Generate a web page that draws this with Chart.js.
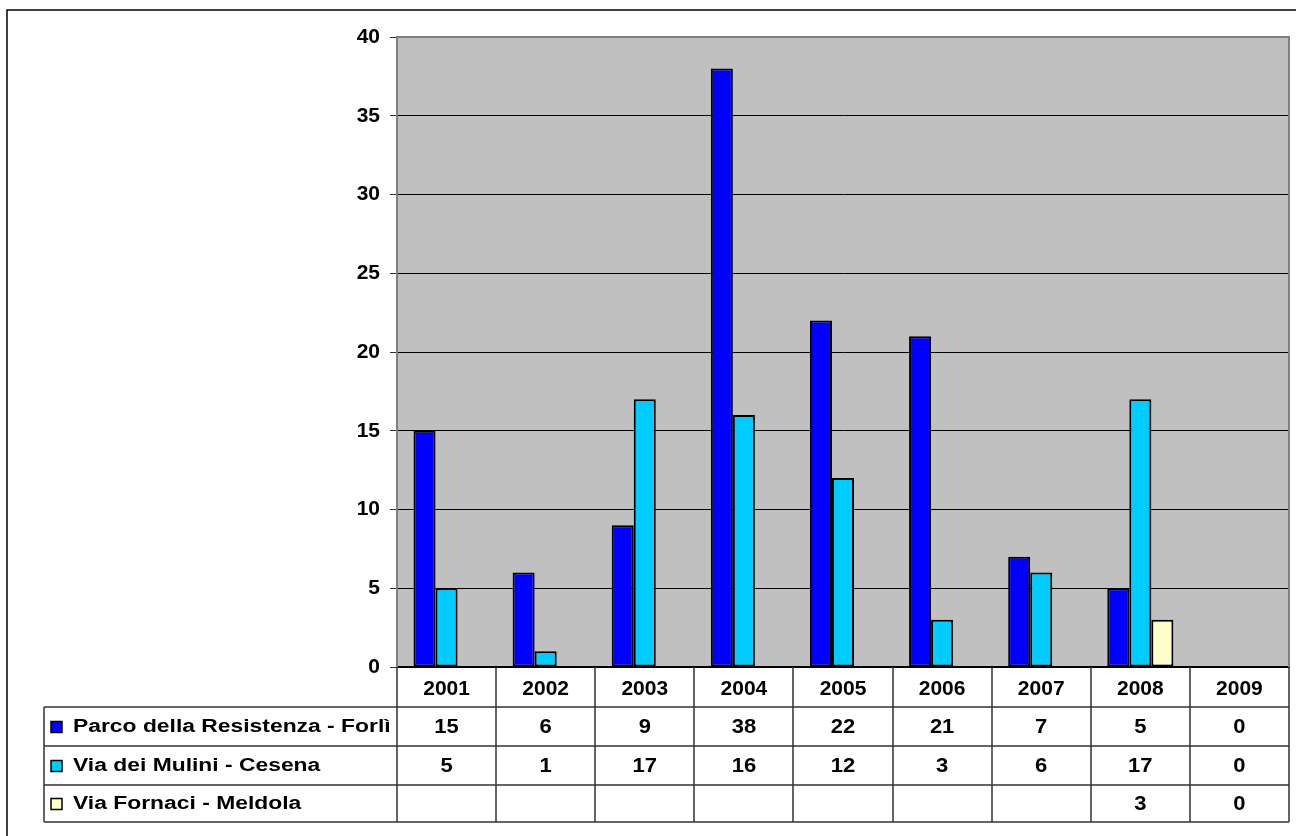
<!DOCTYPE html>
<html>
<head>
<meta charset="utf-8">
<script src="https://cdn.jsdelivr.net/npm/chart.js@4"></script>
<style>
    html, body { margin: 0; padding: 0; background: #fff; }
    #wrap { width: 1296px; height: 836px; position: relative; }
</style>
</head>
<body>
<div id="wrap"><canvas id="chart"></canvas></div>
<script>
const years = ['2001', '2002', '2003', '2004', '2005', '2006', '2007', '2008', '2009'];
const parco = [15, 6, 9, 38, 22, 21, 7, 5, 0];
const mulini = [5, 1, 17, 16, 12, 3, 6, 17, 0];
const fornaci = [null, null, null, null, null, null, null, 3, 0];
const seriesNames = ['Parco della Resistenza - Forlì', 'Via dei Mulini - Cesena', 'Via Fornaci - Meldola'];
const seriesColors = ['#0000FF', '#00CCFF', '#FFFFCC'];

const FONT = "'Liberation Sans', Arial, sans-serif";

// grey plot background + outline
const plotBox = {
    id: 'plotBox',
    beforeDraw(chart) {
        const { ctx, chartArea: a } = chart;
        ctx.save();
        ctx.fillStyle = '#C0C0C0';
        ctx.fillRect(a.left, a.top, a.right - a.left, a.bottom - a.top);
        ctx.restore();
    },
    beforeDatasetsDraw(chart) {
        const { ctx, chartArea: a } = chart;
        ctx.save();
        ctx.strokeStyle = '#808080';
        ctx.lineWidth = 2;
        ctx.beginPath();
        ctx.moveTo(a.left, a.bottom);
        ctx.lineTo(a.left, a.top);
        ctx.lineTo(a.right, a.top);
        ctx.lineTo(a.right, a.bottom);
        ctx.stroke();
        ctx.restore();
    }
};

// data table under the plot
const dataTable = {
    id: 'dataTable',
    afterDraw(chart) {
        const { ctx, chartArea: a } = chart;
        const xs = chart.scales.x;
        const rows = [parco, mulini, fornaci];
        const catBottom = 707;
        const rowLines = [707, 746, 785, 822];
        const legendLeft = 44;

        ctx.save();
        ctx.strokeStyle = '#333';
        ctx.lineWidth = 1.5;
        ctx.beginPath();
        for (let i = 0; i <= years.length; i++) {
            const x = Math.round(xs.getPixelForValue(i - 0.5));
            ctx.moveTo(x, a.bottom);
            ctx.lineTo(x, rowLines[3]);
        }
        ctx.moveTo(legendLeft, catBottom);
        ctx.lineTo(legendLeft, rowLines[3]);
        rowLines.forEach(y => {
            ctx.moveTo(legendLeft, y);
            ctx.lineTo(a.right, y);
        });
        ctx.stroke();

        ctx.fillStyle = '#000';
        ctx.textBaseline = 'middle';
        rows.forEach((vals, r) => {
            const yMid = (rowLines[r] + rowLines[r + 1]) / 2 + 1;
            vals.forEach((v, i) => {
                if (v === null) return;
                ctx.save();
                ctx.translate(xs.getPixelForValue(i), yMid);
                ctx.scale(1.1, 1);
                ctx.textAlign = 'center';
                ctx.font = 'bold 20px ' + FONT;
                ctx.fillText(String(v), 0, 0);
                ctx.restore();
            });
            // legend key
            ctx.fillStyle = seriesColors[r];
            ctx.fillRect(51, yMid - 6, 11, 11);
            ctx.strokeStyle = '#000';
            ctx.lineWidth = 1.5;
            ctx.strokeRect(51, yMid - 6, 11, 11);
            ctx.fillStyle = '#000';
            ctx.save();
            ctx.translate(73, yMid);
            ctx.scale(1.27, 1);
            ctx.textAlign = 'left';
            ctx.font = 'bold 18px ' + FONT;
            ctx.fillText(seriesNames[r], 0, 0);
            ctx.restore();
        });

        // outer frame
        ctx.strokeStyle = '#000';
        ctx.lineWidth = 1.5;
        ctx.strokeRect(7, 10, 1300, 840);
        ctx.restore();
    }
};

const ctx = document.getElementById('chart').getContext('2d');
const chart = new Chart(ctx, {
    type: 'bar',
    data: {
        labels: years,
        datasets: [parco, mulini, fornaci].map((d, i) => ({
            label: seriesNames[i],
            data: d,
            backgroundColor: seriesColors[i],
            borderColor: '#000',
            borderWidth: 2,
            borderSkipped: false,
            categoryPercentage: 0.667,
            barPercentage: 1
        }))
    },
    options: {
        responsive: true,
        maintainAspectRatio: false,
        animation: false,
        layout: { padding: { left: 0, top: 37, right: 7, bottom: 129 } },
        plugins: {
            legend: { display: false },
            tooltip: { enabled: false }
        },
        scales: {
            x: {
                offset: true,
                grid: { display: false, drawTicks: false },
                border: { color: '#000', width: 2 },
                ticks: {
                    color: '#000',
                    padding: 10,
                    font: { family: FONT, size: 21, weight: 'bold' }
                },
                afterFit(scale) { scale.height = 40; }
            },
            y: {
                min: 0,
                max: 40,
                ticks: {
                    stepSize: 5,
                    color: '#000',
                    padding: 10,
                    font: { family: FONT, size: 21, weight: 'bold' }
                },
                grid: { color: '#000', lineWidth: 1, tickLength: 7, tickColor: '#333' },
                border: { color: '#555', width: 2 },
                afterFit(scale) { scale.width = 397; }
            }
        }
    },
    plugins: [plotBox, dataTable]
});
</script>
</body>
</html>
